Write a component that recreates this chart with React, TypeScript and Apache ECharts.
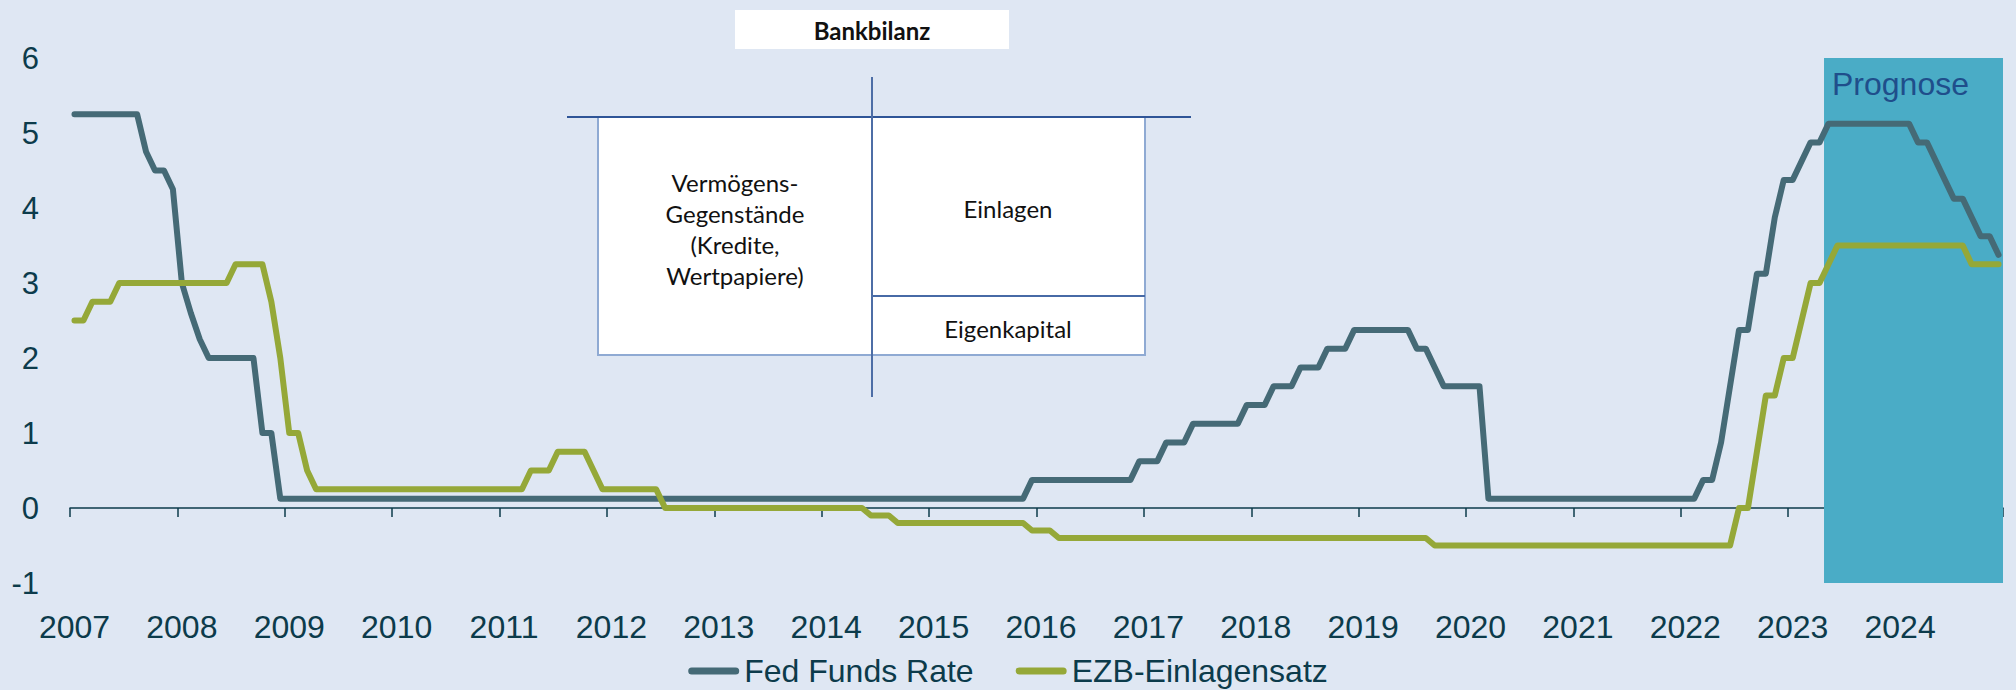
import React, { useEffect, useRef } from "react";
import * as echarts from "echarts";

// ---- data (monthly, Jan 2007 .. Dec 2024), one row per year ----
const years = [2007, 2008, 2009, 2010, 2011, 2012, 2013, 2014, 2015, 2016, 2017, 2018, 2019, 2020, 2021, 2022, 2023, 2024];

const fedFundsRate = [
  5.25, 5.25, 5.25, 5.25, 5.25, 5.25, 5.25, 5.25, 4.75, 4.5, 4.5, 4.25,
  3.0, 2.6, 2.25, 2.0, 2.0, 2.0, 2.0, 2.0, 2.0, 1.0, 1.0, 0.125,
  0.125, 0.125, 0.125, 0.125, 0.125, 0.125, 0.125, 0.125, 0.125, 0.125, 0.125, 0.125,
  0.125, 0.125, 0.125, 0.125, 0.125, 0.125, 0.125, 0.125, 0.125, 0.125, 0.125, 0.125,
  0.125, 0.125, 0.125, 0.125, 0.125, 0.125, 0.125, 0.125, 0.125, 0.125, 0.125, 0.125,
  0.125, 0.125, 0.125, 0.125, 0.125, 0.125, 0.125, 0.125, 0.125, 0.125, 0.125, 0.125,
  0.125, 0.125, 0.125, 0.125, 0.125, 0.125, 0.125, 0.125, 0.125, 0.125, 0.125, 0.125,
  0.125, 0.125, 0.125, 0.125, 0.125, 0.125, 0.125, 0.125, 0.125, 0.125, 0.125, 0.125,
  0.125, 0.125, 0.125, 0.125, 0.125, 0.125, 0.125, 0.125, 0.125, 0.125, 0.125, 0.375,
  0.375, 0.375, 0.375, 0.375, 0.375, 0.375, 0.375, 0.375, 0.375, 0.375, 0.375, 0.625,
  0.625, 0.625, 0.875, 0.875, 0.875, 1.125, 1.125, 1.125, 1.125, 1.125, 1.125, 1.375,
  1.375, 1.375, 1.625, 1.625, 1.625, 1.875, 1.875, 1.875, 2.125, 2.125, 2.125, 2.375,
  2.375, 2.375, 2.375, 2.375, 2.375, 2.375, 2.125, 2.125, 1.875, 1.625, 1.625, 1.625,
  1.625, 1.625, 0.125, 0.125, 0.125, 0.125, 0.125, 0.125, 0.125, 0.125, 0.125, 0.125,
  0.125, 0.125, 0.125, 0.125, 0.125, 0.125, 0.125, 0.125, 0.125, 0.125, 0.125, 0.125,
  0.125, 0.125, 0.375, 0.375, 0.875, 1.625, 2.375, 2.375, 3.125, 3.125, 3.875, 4.375,
  4.375, 4.625, 4.875, 4.875, 5.125, 5.125, 5.125, 5.125, 5.125, 5.125, 5.125, 5.125,
  5.125, 5.125, 4.875, 4.875, 4.625, 4.375, 4.125, 4.125, 3.875, 3.625, 3.625, 3.375,
];

const ezbEinlagensatz = [
  2.5, 2.5, 2.75, 2.75, 2.75, 3.0, 3.0, 3.0, 3.0, 3.0, 3.0, 3.0,
  3.0, 3.0, 3.0, 3.0, 3.0, 3.0, 3.25, 3.25, 3.25, 3.25, 2.75, 2.0,
  1.0, 1.0, 0.5, 0.25, 0.25, 0.25, 0.25, 0.25, 0.25, 0.25, 0.25, 0.25,
  0.25, 0.25, 0.25, 0.25, 0.25, 0.25, 0.25, 0.25, 0.25, 0.25, 0.25, 0.25,
  0.25, 0.25, 0.25, 0.5, 0.5, 0.5, 0.75, 0.75, 0.75, 0.75, 0.5, 0.25,
  0.25, 0.25, 0.25, 0.25, 0.25, 0.25, 0.0, 0.0, 0.0, 0.0, 0.0, 0.0,
  0.0, 0.0, 0.0, 0.0, 0.0, 0.0, 0.0, 0.0, 0.0, 0.0, 0.0, 0.0,
  0.0, 0.0, 0.0, 0.0, 0.0, -0.1, -0.1, -0.1, -0.2, -0.2, -0.2, -0.2,
  -0.2, -0.2, -0.2, -0.2, -0.2, -0.2, -0.2, -0.2, -0.2, -0.2, -0.2, -0.3,
  -0.3, -0.3, -0.4, -0.4, -0.4, -0.4, -0.4, -0.4, -0.4, -0.4, -0.4, -0.4,
  -0.4, -0.4, -0.4, -0.4, -0.4, -0.4, -0.4, -0.4, -0.4, -0.4, -0.4, -0.4,
  -0.4, -0.4, -0.4, -0.4, -0.4, -0.4, -0.4, -0.4, -0.4, -0.4, -0.4, -0.4,
  -0.4, -0.4, -0.4, -0.4, -0.4, -0.4, -0.4, -0.4, -0.5, -0.5, -0.5, -0.5,
  -0.5, -0.5, -0.5, -0.5, -0.5, -0.5, -0.5, -0.5, -0.5, -0.5, -0.5, -0.5,
  -0.5, -0.5, -0.5, -0.5, -0.5, -0.5, -0.5, -0.5, -0.5, -0.5, -0.5, -0.5,
  -0.5, -0.5, -0.5, -0.5, -0.5, -0.5, 0.0, 0.0, 0.75, 1.5, 1.5, 2.0,
  2.0, 2.5, 3.0, 3.0, 3.25, 3.5, 3.5, 3.5, 3.5, 3.5, 3.5, 3.5,
  3.5, 3.5, 3.5, 3.5, 3.5, 3.5, 3.5, 3.5, 3.25, 3.25, 3.25, 3.25,
];

// forecast period, in months counted from Jan 2007
const prognoseStart = 196; // May 2023
const prognoseEnd = 216; // end of 2024

const seriesNames = ["Fed Funds Rate", "EZB-Einlagensatz"];
const yTicks = { min: -1, max: 6, interval: 1 };

const months: string[] = [];
years.forEach((y) => {
  for (let m = 1; m <= 12; m++) months.push(`${y}-${m < 10 ? "0" + m : m}`);
});

const TEXT = "#0c3b4b";
const FED = "#456a76";
const EZB = "#95a838";
const BG = "#dfe7f3";
const FONT = "'Liberation Sans', Arial, sans-serif";
const BOXFONT = "Lato, 'Open Sans', sans-serif";
const CAPSULE = "path://M3.5,0 L47.5,0 A3.5,3.5 0 0 1 47.5,7 L3.5,7 A3.5,3.5 0 0 1 3.5,0 Z";

export default function App() {
  const ref = useRef<HTMLDivElement>(null);

  useEffect(() => {
    if (!ref.current) return;
    const chart = echarts.init(ref.current, null, { renderer: "svg" });
    const option: any = {
      animation: false,
      backgroundColor: BG,
      textStyle: { fontFamily: FONT },
      grid: { left: 70, right: 13, top: 58, bottom: 107, containLabel: false, outerBoundsMode: "none" },
      xAxis: [
        {
          type: "category",
          data: months,
          boundaryGap: true,
          axisLine: { onZero: true, lineStyle: { color: TEXT, width: 1.5 } },
          axisTick: { show: true, interval: 11, length: 9, lineStyle: { color: TEXT, width: 1.5 } },
          axisLabel: {
            interval: 11,
            formatter: (v: string) => v.slice(0, 4),
            margin: 28,
            fontSize: 32,
            color: TEXT,
            fontFamily: FONT,
          },
          splitLine: { show: false },
        },
        { type: "value", min: 0, max: 216, show: false },
      ],
      yAxis: {
        type: "value",
        min: yTicks.min,
        max: yTicks.max,
        interval: yTicks.interval,
        axisLine: { show: false },
        axisTick: { show: false },
        splitLine: { show: false },
        axisLabel: { fontSize: 31, color: TEXT, margin: 31, fontFamily: FONT },
      },
      legend: {
        data: seriesNames,
        top: 650,
        left: "center",
        icon: CAPSULE,
        itemWidth: 51,
        itemHeight: 7,
        itemGap: 42,
        textStyle: { fontSize: 32, color: TEXT, fontFamily: FONT },
      },
      series: [
        {
          type: "line",
          xAxisIndex: 1,
          data: [],
          silent: true,
          markArea: {
            silent: true,
            z: 1,
            itemStyle: { color: "#4aacc6" },
            label: {
              show: true,
              position: "insideTopLeft",
              distance: 8,
              offset: [0, 2],
              color: "#1f4e8b",
              fontSize: 32,
              fontFamily: FONT,
              formatter: "Prognose",
            },
            data: [[{ xAxis: prognoseStart }, { xAxis: prognoseEnd }]],
          },
        },
        {
          name: seriesNames[0],
          type: "line",
          data: fedFundsRate,
          symbol: "none",
          color: FED,
          lineStyle: { width: 6, color: FED, cap: "round", join: "round" },
        },
        {
          name: seriesNames[1],
          type: "line",
          data: ezbEinlagensatz,
          symbol: "none",
          color: EZB,
          lineStyle: { width: 6, color: EZB, cap: "round", join: "round" },
        },
      ],
      graphic: [
        { type: "rect", shape: { x: 735, y: 10, width: 274, height: 39 }, style: { fill: "#ffffff" } },
        {
          type: "text",
          x: 872,
          y: 30,
          style: { text: "Bankbilanz", fontSize: 24, fontWeight: "bold", fontFamily: BOXFONT, fill: "#111", align: "center", verticalAlign: "middle" },
        },
        { type: "rect", shape: { x: 598, y: 117, width: 274, height: 238 }, style: { fill: "#ffffff", stroke: "#8faad3", lineWidth: 2 } },
        { type: "rect", shape: { x: 872, y: 117, width: 273, height: 179 }, style: { fill: "#ffffff", stroke: "#8faad3", lineWidth: 2 } },
        { type: "rect", shape: { x: 872, y: 296, width: 273, height: 59 }, style: { fill: "#ffffff", stroke: "#8faad3", lineWidth: 2 } },
        { type: "line", shape: { x1: 872, y1: 296, x2: 1145, y2: 296 }, style: { stroke: "#2f5597", lineWidth: 1.5 } },
        { type: "line", shape: { x1: 567, y1: 117, x2: 1191, y2: 117 }, style: { stroke: "#2f5597", lineWidth: 2 } },
        { type: "line", shape: { x1: 872, y1: 77, x2: 872, y2: 397 }, style: { stroke: "#4d6ea6", lineWidth: 2 } },
        {
          type: "text",
          x: 735,
          y: 229,
          style: {
            text: "Vermögens-\nGegenstände\n(Kredite,\nWertpapiere)",
            fontSize: 24,
            lineHeight: 31,
            fontFamily: BOXFONT,
            fill: "#111",
            align: "center",
            verticalAlign: "middle",
          },
        },
        {
          type: "text",
          x: 1008,
          y: 208,
          style: { text: "Einlagen", fontSize: 24, fontFamily: BOXFONT, fill: "#111", align: "center", verticalAlign: "middle" },
        },
        {
          type: "text",
          x: 1008,
          y: 328,
          style: { text: "Eigenkapital", fontSize: 24, fontFamily: BOXFONT, fill: "#111", align: "center", verticalAlign: "middle" },
        },
      ],
    };
    chart.setOption(option);
    return () => chart.dispose();
  }, []);

  return <div ref={ref} style={{ position: "absolute", left: 0, top: 0, width: 2016, height: 690 }} />;
}
